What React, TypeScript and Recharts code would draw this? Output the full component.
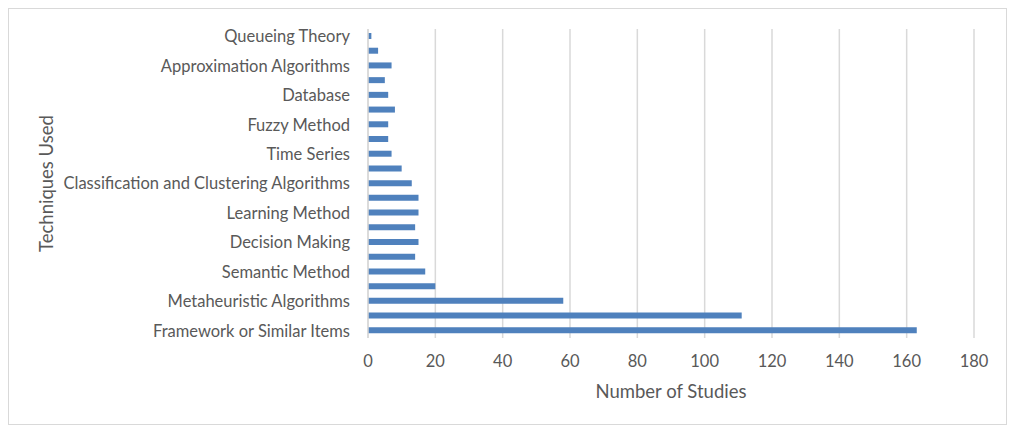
import { Bar, BarChart, CartesianGrid, Label, XAxis, YAxis } from "recharts";

// top to bottom, as in the chart; only every other label is shown
const categories = [
  "Queueing Theory",
  "Technique 20",
  "Approximation Algorithms",
  "Technique 18",
  "Database ",
  "Technique 16",
  "Fuzzy Method",
  "Technique 14",
  "Time Series",
  "Technique 12",
  "Classification and Clustering Algorithms",
  "Technique 10",
  "Learning Method",
  "Technique 8",
  "Decision Making",
  "Technique 6",
  "Semantic Method",
  "Technique 4",
  "Metaheuristic Algorithms",
  "Technique 2",
  "Framework or Similar Items",
];

const studies = [1, 3, 7, 5, 6, 8, 6, 6, 7, 10, 13, 15, 15, 14, 15, 14, 17, 20, 58, 111, 163];

const xTicks = [0, 20, 40, 60, 80, 100, 120, 140, 160, 180];

const FONT = "Lato, 'Open Sans', sans-serif";
const TEXT = "#595959";
const GRID = "#d9d9d9";

export default function App() {
  const rows = categories.map((name, i) => ({ name, value: studies[i] }));

  return (
    <div
      style={{
        width: 997,
        height: 415,
        border: `1px solid ${GRID}`,
        background: "#fff",
        fontFamily: FONT,
      }}
    >
      <BarChart
        width={997}
        height={415}
        data={rows}
        layout="vertical"
        margin={{ top: 20, right: 32, bottom: 26, left: 0 }}
        barCategoryGap={0}
      >
        <CartesianGrid horizontal={false} stroke={GRID} strokeWidth={1.5} />
        <XAxis
          type="number"
          domain={[0, 180]}
          ticks={xTicks}
          axisLine={false}
          tickLine={false}
          tickSize={0}
          tickMargin={17}
          height={60}
          tick={{ fill: TEXT, fontSize: 16.5, fontFamily: FONT }}
        >
          <Label
            value="Number of Studies"
            position="insideBottom"
            offset={0}
            fill={TEXT}
            fontSize={18.5}
            fontFamily={FONT}
          />
        </XAxis>
        <YAxis
          type="category"
          dataKey="name"
          width={359}
          interval={1}
          axisLine={{ stroke: GRID, strokeWidth: 1.5 }}
          tickLine={false}
          tickSize={0}
          tickMargin={18}
          tick={{ fill: TEXT, fontSize: 16.5, fontFamily: FONT }}
        >
          <Label
            content={({ viewBox }: any) => {
              const cx = 37;
              const cy = viewBox.y + viewBox.height / 2;
              return (
                <text
                  x={cx}
                  y={cy}
                  transform={`rotate(-90 ${cx} ${cy})`}
                  textAnchor="middle"
                  dominantBaseline="central"
                  fill={TEXT}
                  fontSize={18.5}
                  fontFamily={FONT}
                >
                  Techniques Used
                </text>
              );
            }}
          />
        </YAxis>
        <Bar dataKey="value" fill="#4f81bd" barSize={6} isAnimationActive={false} />
      </BarChart>
    </div>
  );
}
